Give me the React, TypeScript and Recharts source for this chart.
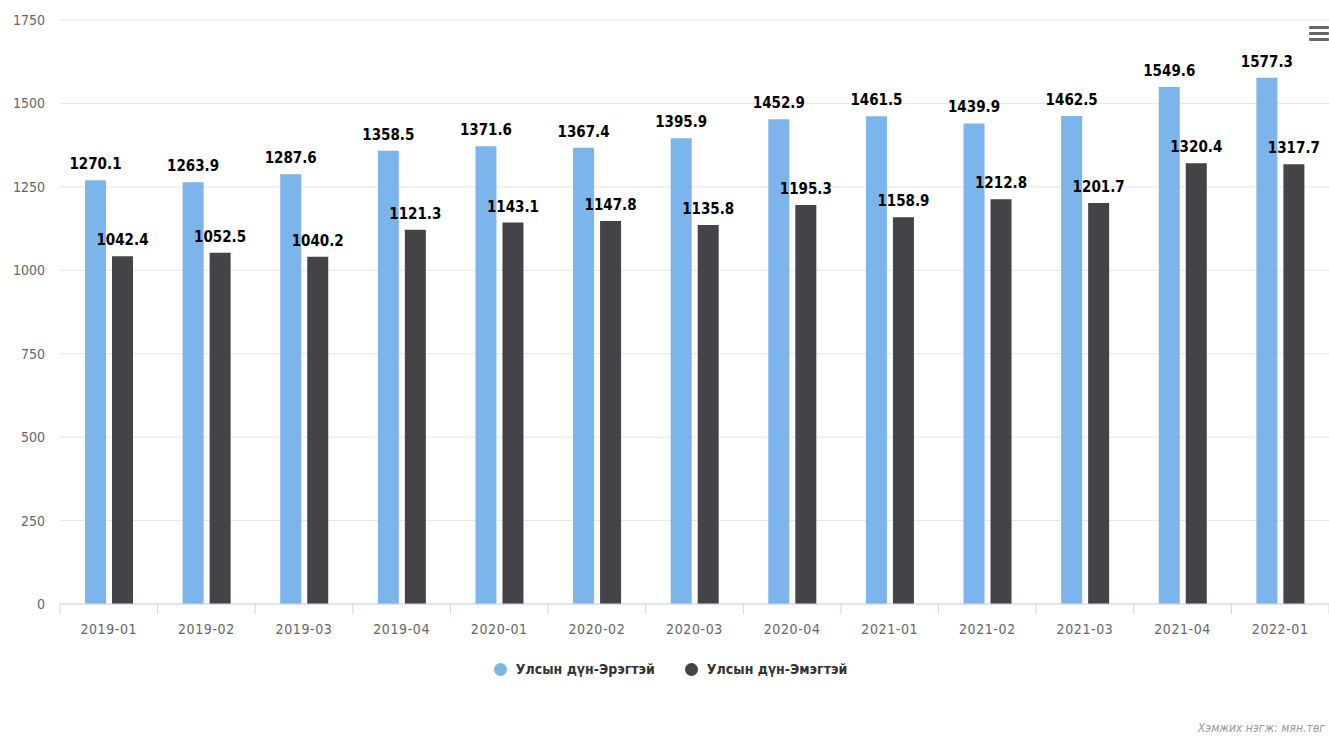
import { BarChart, Bar, XAxis, YAxis, CartesianGrid, LabelList } from 'recharts'

const periods = ['2019-01', '2019-02', '2019-03', '2019-04', '2020-01', '2020-02', '2020-03', '2020-04', '2021-01', '2021-02', '2021-03', '2021-04', '2022-01']
const male = [1270.1, 1263.9, 1287.6, 1358.5, 1371.6, 1367.4, 1395.9, 1452.9, 1461.5, 1439.9, 1462.5, 1549.6, 1577.3]
const female = [1042.4, 1052.5, 1040.2, 1121.3, 1143.1, 1147.8, 1135.8, 1195.3, 1158.9, 1212.8, 1201.7, 1320.4, 1317.7]
const yTicks = [0, 250, 500, 750, 1000, 1250, 1500, 1750]

const seriesNames = ['Улсын дүн-Эрэгтэй', 'Улсын дүн-Эмэгтэй']
const COLORS = ['#7cb5ec', '#434348']

const data = periods.map((p, i) => ({ period: p, male: male[i], female: female[i] }))

const W = 1329
const H = 737
const PLOT_LEFT = 60
const BAND = (W - PLOT_LEFT) / periods.length
const FONT = '"DejaVu Sans Condensed", "Liberation Sans Narrow", "DejaVu Sans", sans-serif'

function XTick(props: any) {
  const { x, y, payload, index } = props
  const left = x - BAND / 2
  return (
    <g>
      <line x1={left} y1={y - 8} x2={left} y2={y + 2} stroke="#ccd6eb" />
      {index === periods.length - 1 && (
        <line x1={left + BAND} y1={y - 8} x2={left + BAND} y2={y + 2} stroke="#ccd6eb" />
      )}
      <text x={x} y={y + 22} textAnchor="middle" fill="#666" fontSize={14} letterSpacing={0.6} fontFamily={FONT}>
        {payload.value}
      </text>
    </g>
  )
}

export default function App() {
  return (
    <div style={{ position: 'absolute', left: 0, top: 0, width: W, height: H, background: '#fff', overflow: 'hidden' }}>
      <BarChart
        width={W}
        height={H}
        data={data}
        margin={{ top: 20, right: 0, left: 0, bottom: 103 }}
        barSize={21}
        barGap={6}
      >
        <CartesianGrid vertical={false} stroke="#e6e6e6" />
        <XAxis
          dataKey="period"
          height={30}
          axisLine={{ stroke: '#ccd6eb' }}
          tickLine={false}
          tick={<XTick />}
          interval={0}
        />
        <YAxis
          width={PLOT_LEFT}
          domain={[0, 1750]}
          ticks={yTicks}
          axisLine={false}
          tickLine={false}
          tickSize={0}
          tickMargin={15}
          tick={{ fill: '#666', fontSize: 14, fontFamily: FONT }}
        />
        <Bar dataKey="male" fill={COLORS[0]} isAnimationActive={false}>
          <LabelList dataKey="male" position="top" offset={11} fill="#000" fontSize={15} fontWeight="bold" fontFamily={FONT} />
        </Bar>
        <Bar dataKey="female" fill={COLORS[1]} isAnimationActive={false}>
          <LabelList dataKey="female" position="top" offset={11} fill="#000" fontSize={15} fontWeight="bold" fontFamily={FONT} />
        </Bar>
      </BarChart>

      <div
        style={{
          position: 'absolute',
          top: 661,
          left: 0,
          width: W,
          display: 'flex',
          justifyContent: 'center',
          gap: 30,
          fontFamily: FONT,
          fontWeight: 'bold',
          fontSize: 14,
          color: '#333',
          paddingLeft: 12,
          boxSizing: 'border-box',
        }}
      >
        {seriesNames.map((name, i) => (
          <div key={name} style={{ display: 'flex', alignItems: 'center' }}>
            <span style={{ width: 13, height: 13, borderRadius: '50%', background: COLORS[i], marginRight: 9, display: 'inline-block' }} />
            {name}
          </div>
        ))}
      </div>

      <div style={{ position: 'absolute', right: 0, top: 26, width: 20 }}>
        {[0, 1, 2].map((k) => (
          <div key={k} style={{ height: 3, background: '#666', marginBottom: 3, borderRadius: 1 }} />
        ))}
      </div>

      <div
        style={{
          position: 'absolute',
          right: 4,
          top: 721,
          fontFamily: FONT,
          fontStyle: 'italic',
          fontSize: 12,
          color: '#999',
          whiteSpace: 'nowrap',
        }}
      >
        Хэмжих нэгж: мян.төг
      </div>
    </div>
  )
}
